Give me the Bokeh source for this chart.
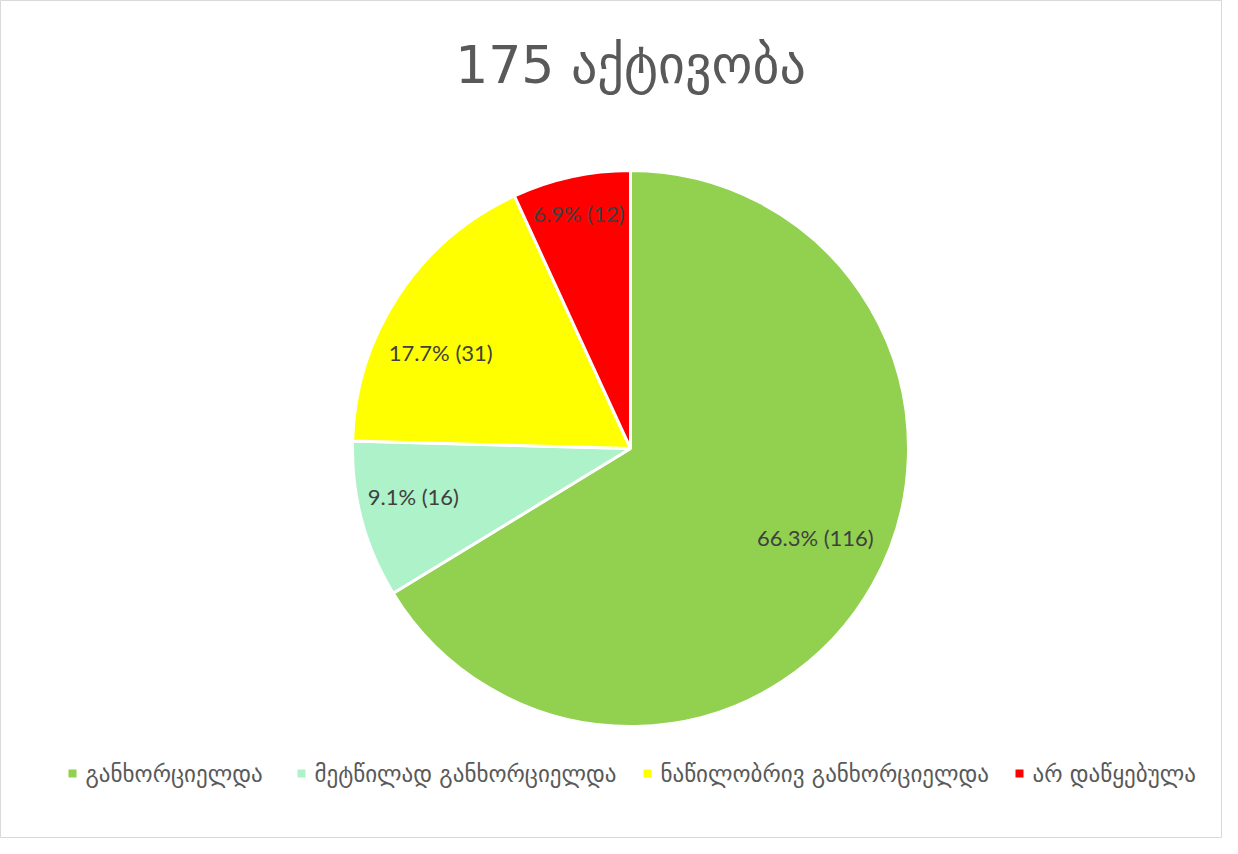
import math
from bokeh.plotting import figure
from bokeh.models import Range1d, ColumnDataSource
from bokeh.core.properties import value
from bokeh.embed import file_html
from bokeh.resources import INLINE

title_text = "175 აქტივობა"
categories = ["განხორციელდა", "მეტწილად განხორციელდა", "ნაწილობრივ განხორციელდა", "არ დაწყებულა"]
counts = [116, 16, 31, 12]
colors = ["#92D050", "#ADF2C8", "#FFFF00", "#FF0000"]

W, H = 1222, 838
p = figure(width=W, height=H, output_backend="svg", toolbar_location=None,
           x_range=Range1d(0, W), y_range=Range1d(0, H), min_border=0)
p.axis.visible = False
p.grid.visible = False
p.outline_line_color = "#d9d9d9"
p.background_fill_color = "white"

cx, cy, R = 630, 390, 278
total = sum(counts)
starts, ends, mids = [], [], []
cum = 0
for c in counts:
    a0 = math.pi / 2 - 2 * math.pi * cum / total
    cum += c
    a1 = math.pi / 2 - 2 * math.pi * cum / total
    starts.append(a0)
    ends.append(a1)
    mids.append((a0 + a1) / 2)

src = ColumnDataSource(dict(start=starts, end=ends, color=colors))
p.wedge(x=cx, y=cy, radius=R, start_angle="start", end_angle="end", direction="clock",
        fill_color="color", line_color="white", line_width=3, source=src)

label_frac = [0.738, 0.80, 0.766, 0.867]
label_dang = [3.6, -2.5, 6.5, 0.0]
angs = [m + math.radians(d) for m, d in zip(mids, label_dang)]
lx = [cx + f * R * math.cos(a) for f, a in zip(label_frac, angs)]
ly = [cy + f * R * math.sin(a) for f, a in zip(label_frac, angs)]
labels = [f"{100*c/total:.1f}% ({c})" for c in counts]
p.text(x=lx, y=ly, text=labels, text_font=value("Lato"), text_font_size="22px",
       text_color="#404040", text_align="center", text_baseline="middle")

p.text(x=[630], y=[774], text=[title_text], text_font=value("DejaVu Sans"),
       text_font_size="52px", text_color="#595959", text_align="center", text_baseline="middle")

leg_x = [68, 297, 643, 1015]
leg_y = 65
p.rect(x=[x + 4 for x in leg_x], y=[leg_y] * 4, width=8, height=8, fill_color=colors, line_color=None)
p.text(x=[x + 17 for x in leg_x], y=[leg_y] * 4, text=categories, text_font=value("DejaVu Sans"),
       text_font_size="23px", text_color="#595959", text_align="left", text_baseline="middle")

open("out.html", "w").write(file_html(p, INLINE))
